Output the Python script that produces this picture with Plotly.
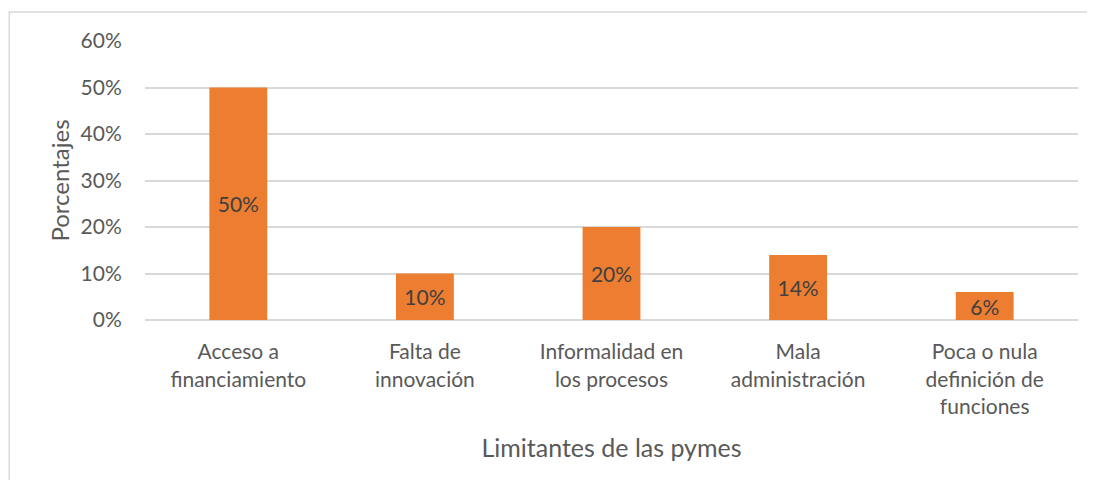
import plotly.graph_objects as go

# ── Data ───────────────────────────────────────────────────────────────────
categories = [
    "Acceso a<br>financiamiento",
    "Falta de<br>innovación",
    "Informalidad en<br>los procesos",
    "Mala<br>administración",
    "Poca o nula<br>definición de<br>funciones",
]
values = [0.50, 0.10, 0.20, 0.14, 0.06]
y_ticks = [0, 0.1, 0.2, 0.3, 0.4, 0.5, 0.6]
y_tick_labels = ["0%", "10%", "20%", "30%", "40%", "50%", "60%"]

FONT = "Lato, 'Open Sans', sans-serif"
TEXT = "#595959"
GRID = "#d9d9d9"
BAR = "#ed7d31"

fig = go.Figure(
    go.Bar(
        x=categories,
        y=values,
        marker=dict(color=BAR, line=dict(width=0)),
        text=[f"{v:.0%}" for v in values],
        textposition="inside",
        insidetextanchor="middle",
        constraintext="none",
        textfont=dict(family=FONT, size=21, color="#404040"),
        showlegend=False,
    )
)

# chart-area border (outer frame)
fig.add_shape(
    type="rect", xref="paper", yref="paper",
    x0=-0.1455, x1=1.1, y0=-0.7, y1=1.104,
    line=dict(color=GRID, width=1.5), fillcolor="rgba(0,0,0,0)", layer="below",
)

fig.update_layout(
    width=1079,
    height=472,
    margin=dict(l=137, r=9, t=33, b=160),
    paper_bgcolor="white",
    plot_bgcolor="white",
    bargap=0.69,
    font=dict(family=FONT, size=21, color=TEXT),
    xaxis=dict(
        title=dict(text="Limitantes de las pymes", font=dict(size=25, color=TEXT), standoff=22),
        tickfont=dict(size=21, color=TEXT),
        showline=False,
        showgrid=False,
        ticks="outside",
        ticklen=13,
        tickcolor="white",
    ),
    yaxis=dict(
        title=dict(text="Porcentajes", font=dict(size=24, color=TEXT), standoff=4),
        range=[0, 0.6],
        tickvals=y_ticks,
        ticktext=y_tick_labels,
        tickfont=dict(size=21, color=TEXT),
        showgrid=True,
        gridcolor=GRID,
        gridwidth=1.5,
        zeroline=True,
        zerolinecolor=GRID,
        zerolinewidth=1.5,
        ticks="outside",
        ticklen=18,
        tickcolor="white",
    ),
)

fig.write_html("out.html")
